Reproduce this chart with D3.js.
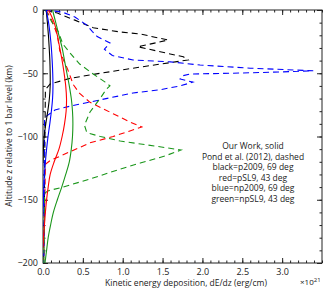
<!DOCTYPE html>
<html><head><meta charset="utf-8">
<script src="https://cdn.jsdelivr.net/npm/d3@7"></script>
<style>body{margin:0;background:#fff}text{font-family:"Open Sans",sans-serif;fill:#222}</style>
</head><body><svg id="c" width="328" height="294"></svg>
<script>
// Our Work (solid): [altitude km, dE/dz x1e21]
const blackSolid = [[0,0.04],[-10,0.055],[-20,0.068],[-30,0.078],[-40,0.086],[-50,0.09],[-60,0.09],[-70,0.08],[-80,0.06],[-90,0.035],[-100,0.015],[-110,0.005],[-120,0]];
const redSolid = [[0,0.07],[-10,0.14],[-20,0.18],[-30,0.21],[-40,0.24],[-50,0.265],[-60,0.285],[-70,0.295],[-80,0.29],[-90,0.27],[-100,0.24],[-110,0.2],[-120,0.14],[-130,0.09],[-140,0.065],[-150,0.045],[-160,0.03],[-170,0.018],[-180,0.006],[-188,0]];
const blueSolid = [[0,0.04],[-10,0.07],[-20,0.09],[-30,0.105],[-40,0.115],[-50,0.122],[-60,0.125],[-70,0.12],[-80,0.105],[-90,0.085],[-100,0.063],[-110,0.045],[-120,0.03],[-130,0.018],[-140,0.01],[-150,0.005],[-160,0]];
const greenSolid = [[0,0.12],[-10,0.16],[-20,0.2],[-30,0.24],[-40,0.27],[-50,0.3],[-60,0.33],[-70,0.355],[-80,0.37],[-90,0.375],[-100,0.37],[-110,0.355],[-120,0.33],[-130,0.285],[-140,0.235],[-150,0.18],[-160,0.13],[-170,0.095],[-180,0.065],[-190,0.045],[-200,0.025]];
// Pond et al. (2012) (dashed)
const blackDashed = [[0,0.03],[-2.4,0.18],[-8,0.4],[-14,0.63],[-17.4,0.97],[-19,1.22],[-23.7,1.57],[-27,1.34],[-29,1.19],[-33,1.47],[-37,1.76],[-39.5,1.82],[-41,1.66],[-44,1.34],[-46,1.13],[-50,0.72],[-54,0.34],[-58.5,0.09],[-63,0.03],[-200,0.01]];
const redDashed = [[0,0.04],[-8,0.11],[-20,0.18],[-32,0.21],[-40,0.26],[-47,0.31],[-59,0.38],[-66,0.46],[-73,0.59],[-77,0.72],[-82,0.88],[-88.5,1.09],[-92.5,1.24],[-95.6,1.09],[-100,0.88],[-105,0.59],[-112,0.34],[-119,0.09],[-122,0.03],[-200,0.01]];
const blueDashed = [[0,0.02],[-1.6,0.24],[-5.5,0.4],[-12,0.55],[-17,0.62],[-21,0.68],[-26,0.84],[-31,0.77],[-36,0.87],[-39.5,1.13],[-41,1.6],[-43.5,1.97],[-46,2.6],[-48,3.39],[-49,2.98],[-50,2.35],[-50.6,1.85],[-52,1.75],[-54.5,1.72],[-57,1.88],[-60,1.72],[-63,1.47],[-65.6,1.13],[-71,0.72],[-76,0.34],[-79,0.15],[-85,0.02],[-200,0.01]];
const greenDashed = [[0,0.03],[-9.5,0.11],[-17,0.19],[-27,0.25],[-34,0.34],[-42.7,0.46],[-50.6,0.63],[-57,0.78],[-60,0.84],[-63,0.79],[-69.6,0.72],[-80.6,0.59],[-91,0.52],[-97,0.55],[-100,0.72],[-103.6,0.97],[-106.7,1.31],[-109,1.56],[-110.7,1.73],[-115.4,1.53],[-121,1.22],[-125.7,0.97],[-133.6,0.59],[-140,0.25],[-143,0.06],[-145,0.02],[-200,0.01]];
const xTicks = [0,0.5,1,1.5,2,2.5,3];
const xTickLabels = ["0.0","0.5","1.0","1.5","2.0","2.5","3.0"];
const yTicks = [0,-50,-100,-150,-200];
const legendLines = ["Our Work, solid","Pond et al. (2012), dashed","black=p2009, 69 deg","red=pSL9, 43 deg","blue=np2009, 69 deg","green=npSL9, 43 deg"];

const svg = d3.select("#c");
const L=43,R=322,T=10,B=263;
const x = d3.scaleLinear().domain([0,3.5]).range([L,R]);
const y = d3.scaleLinear().domain([0,-200]).range([T,B]);
const cols = {black:"#000",red:"#ff0000",blue:"#0000ff",green:"#1a961a"};

const g = svg.append("g");
svg.append("clipPath").attr("id","cp").append("rect").attr("x",L).attr("y",T).attr("width",R-L).attr("height",B-T);
const plot = svg.append("g").attr("clip-path","url(#cp)");
const lineSmooth = d3.line().x(d=>x(d[1])).y(d=>y(d[0])).curve(d3.curveCatmullRom);
const lineLin = d3.line().x(d=>x(d[1])).y(d=>y(d[0]));
[[blackDashed,"black"],[redDashed,"red"],[blueDashed,"blue"],[greenDashed,"green"]].forEach(([d,c])=>{
  plot.append("path").attr("d",lineLin(d)).attr("fill","none").attr("stroke",cols[c]).attr("stroke-width",1.1).attr("stroke-dasharray","6,4");
});
[[blackSolid,"black"],[redSolid,"red"],[blueSolid,"blue"],[greenSolid,"green"]].forEach(([d,c])=>{
  plot.append("path").attr("d",lineSmooth(d)).attr("fill","none").attr("stroke",cols[c]).attr("stroke-width",1.1);
});

// axes
const minorX = d3.range(0,3.51,0.1).map(v=>+v.toFixed(2));
const minorY = d3.range(0,-201,-10);
const axB = d3.axisBottom(x).tickValues(xTicks).tickFormat((d,i)=>xTickLabels[i]).tickSize(-5).tickPadding(6);
const axT = d3.axisTop(x).tickValues(xTicks).tickFormat("").tickSize(-5);
const axL = d3.axisLeft(y).tickValues(yTicks).tickFormat(d=>d===0?"0":"\u2212"+Math.abs(d)).tickSize(-5).tickPadding(5);
const axRt = d3.axisRight(y).tickValues(yTicks).tickFormat("").tickSize(-5);
const mB = d3.axisBottom(x).tickValues(minorX).tickFormat("").tickSize(-2.5);
const mT = d3.axisTop(x).tickValues(minorX).tickFormat("").tickSize(-2.5);
const mL = d3.axisLeft(y).tickValues(minorY).tickFormat("").tickSize(-2.5);
const mR = d3.axisRight(y).tickValues(minorY).tickFormat("").tickSize(-2.5);
function put(ax,tr){const a=g.append("g").attr("transform",tr).call(ax);a.select(".domain").remove();a.selectAll("line").attr("stroke","#222");a.selectAll("text").attr("font-size",9).attr("font-family","Open Sans").attr("fill","#333");return a;}
put(mB,`translate(0,${B})`);put(mT,`translate(0,${T})`);put(mL,`translate(${L},0)`);put(mR,`translate(${R},0)`);
put(axB,`translate(0,${B})`);put(axT,`translate(0,${T})`);put(axL,`translate(${L},0)`);put(axRt,`translate(${R},0)`);
g.append("rect").attr("x",L).attr("y",T).attr("width",R-L).attr("height",B-T).attr("fill","none").attr("stroke","#222").attr("stroke-width",1);

svg.append("text").attr("x",186).attr("y",286).attr("text-anchor","middle").attr("font-size",8.5).text("Kinetic energy deposition, dE/dz (erg/cm)");
const ex = svg.append("text").attr("x",300).attr("y",285).attr("font-size",8);
ex.append("tspan").text("\u00d710");
ex.append("tspan").attr("dy",-3).attr("font-size",6).text("21");
svg.append("text").attr("transform","translate(12,136) rotate(-90)").attr("text-anchor","middle").attr("font-size",8.5).text("Altitude z relative to 1 bar level (km)");
legendLines.forEach((t,i)=>{
  svg.append("text").attr("x",253).attr("y",149+i*10.6).attr("text-anchor","middle").attr("font-size",8.5).text(t);
});
</script></body></html>
